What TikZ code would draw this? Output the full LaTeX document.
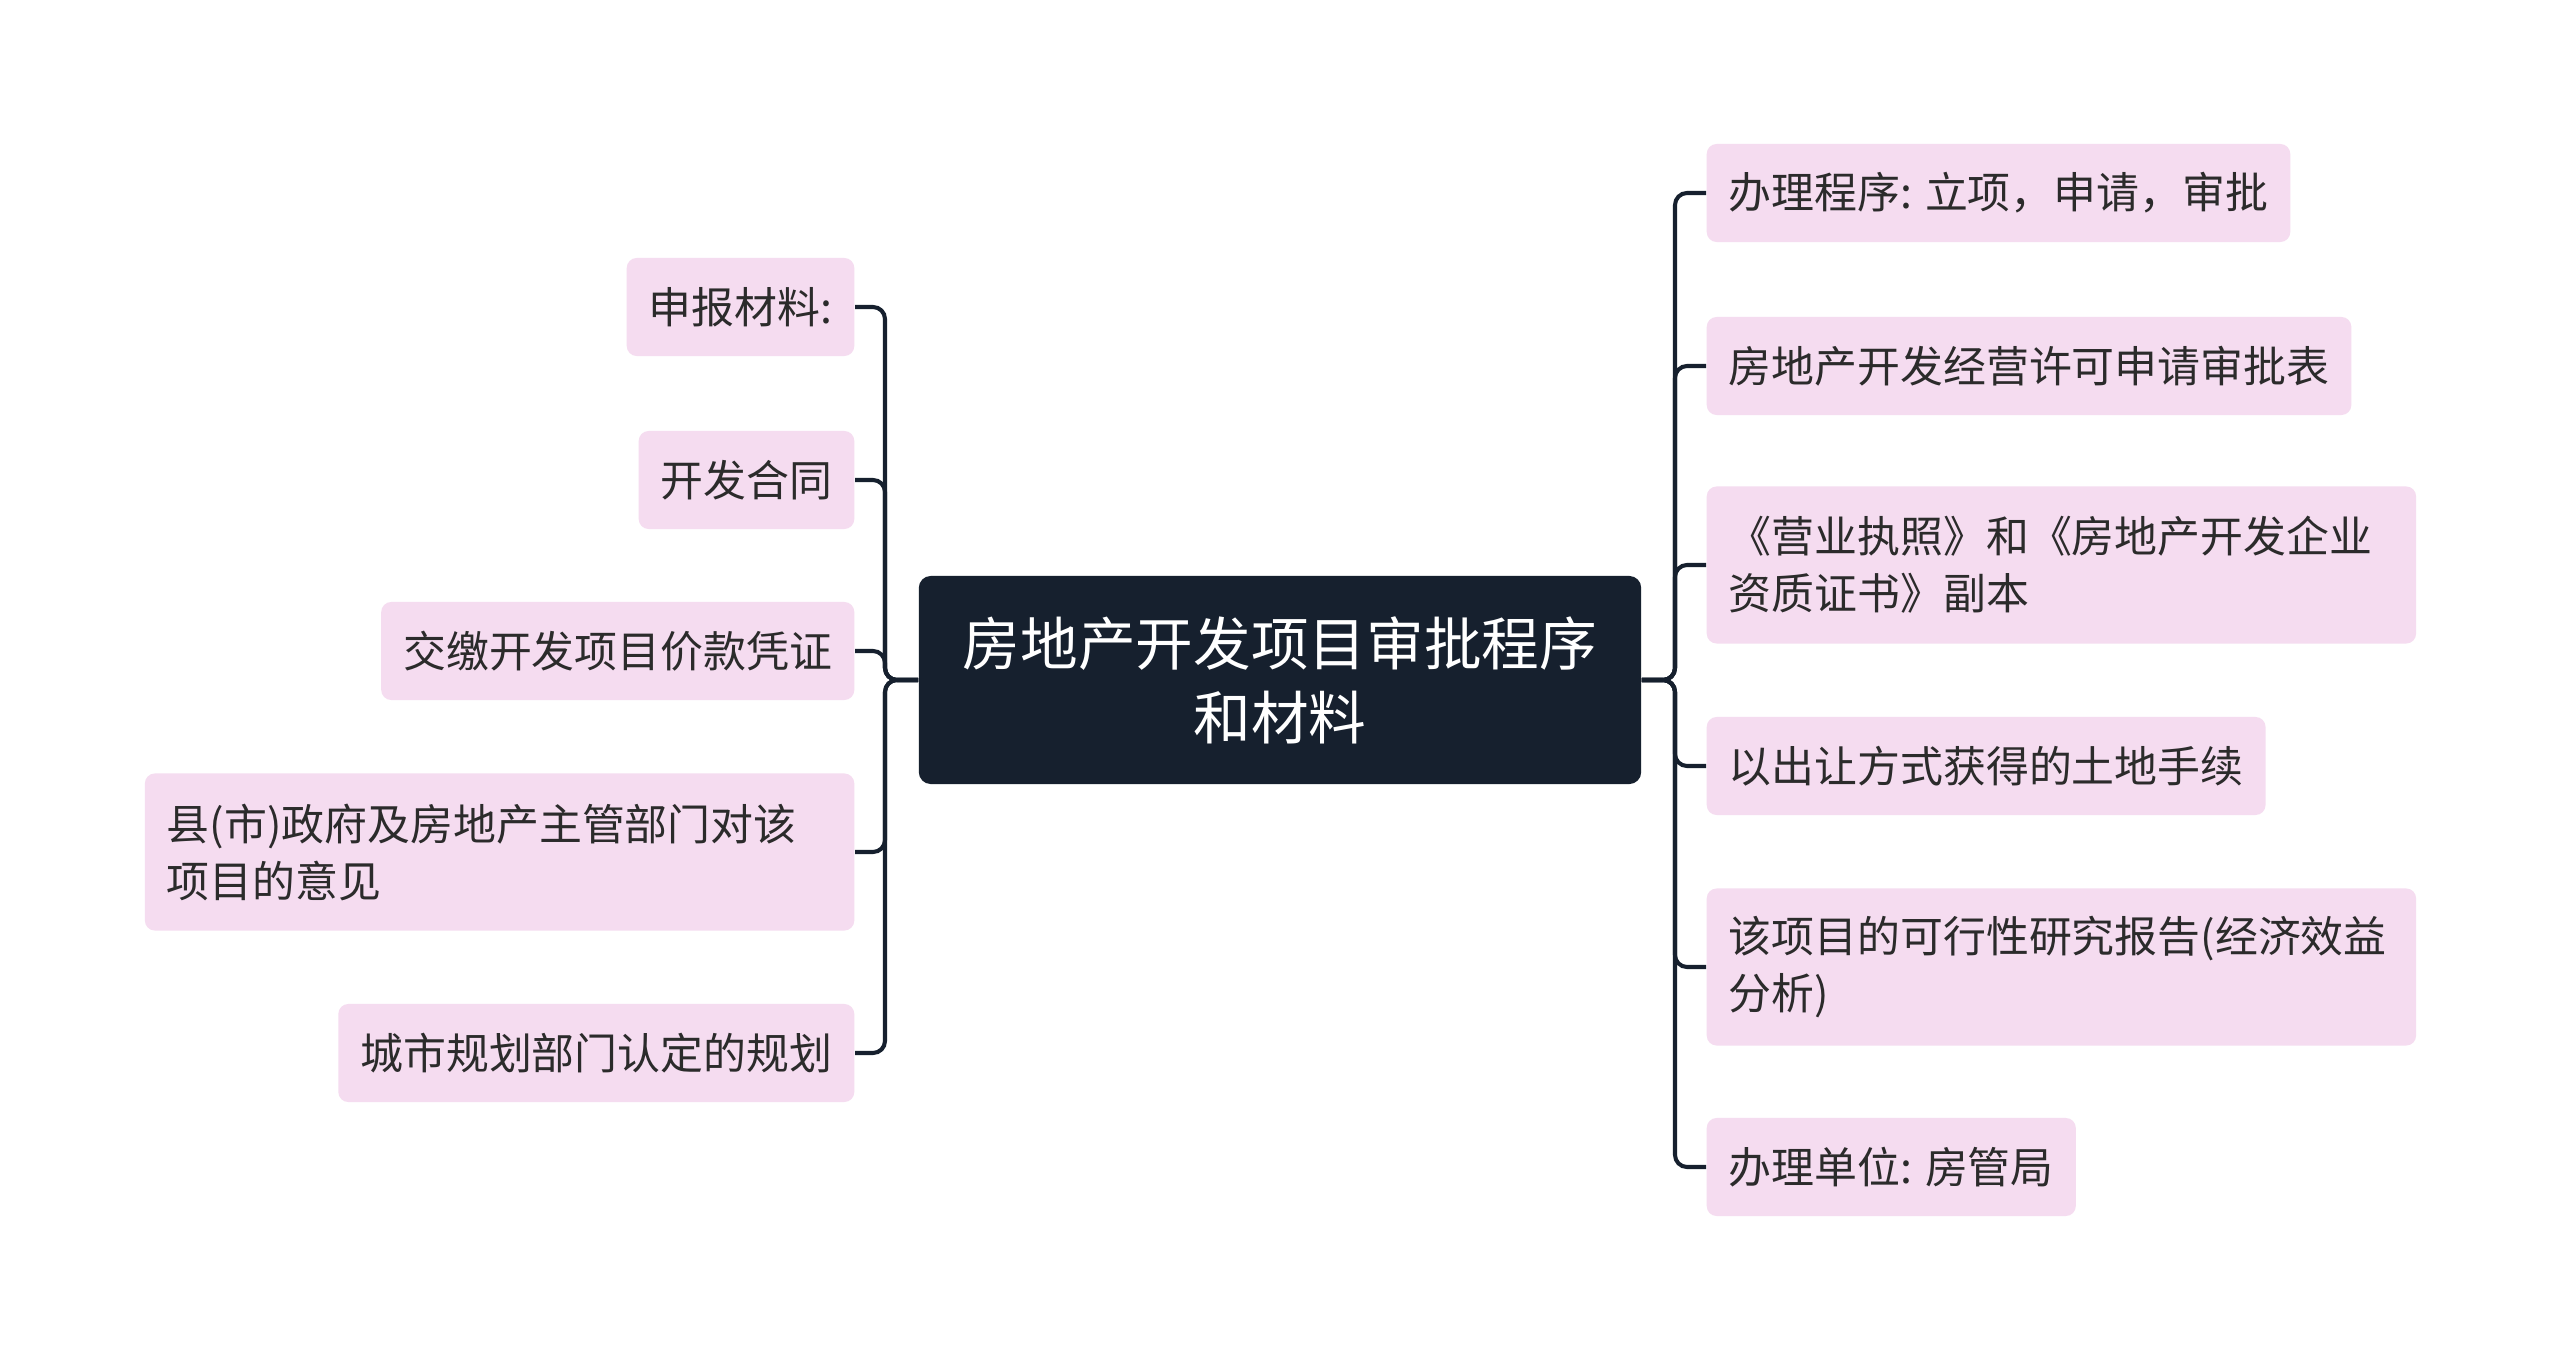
\documentclass[tikz,border=0pt]{standalone}
\usepackage{fontspec}
\setmainfont{Noto Sans CJK SC}
\usepackage{xcolor}
\usetikzlibrary{positioning}
\definecolor{navy}{HTML}{16202E}
\definecolor{pinkbox}{HTML}{F5DCF0}
\definecolor{ink}{HTML}{2B2B2B}

\begin{document}
\begin{tikzpicture}[
  x=0.01cm, y=-0.01cm,
  topic/.style={fill=navy, text=white, rounded corners=0.12cm, align=center, minimum width=7.22cm, minimum height=2.08cm, font=\fontsize{16.4}{21}\selectfont},
  leaf/.style={fill=pinkbox, text=ink, rounded corners=0.1cm, align=left, minimum height=0.98cm, inner xsep=0.22cm, inner ysep=0.1cm, font=\fontsize{12.2}{16.2}\selectfont},
  leaftwo/.style={leaf, minimum height=1.57cm, text width=6.65cm},
  link/.style={draw=navy, line width=1.15pt, rounded corners=0.12cm}
]
\fill[white] (0,0) rectangle (2560,1361);
\useasboundingbox (0,0) rectangle (2560,1361);

\node[topic] (root) at (1280,680) {房地产开发项目审批程序\\和材料};
\coordinate (lt) at (885,680);
\coordinate (rt) at (1675,680);

% left branch
\node[leaf, anchor=east] (l1) at (855,307) {申报材料:};
\node[leaf, anchor=east] (l2) at (855,480) {开发合同};
\node[leaf, anchor=east] (l3) at (855,651) {交缴开发项目价款凭证};
\node[leaftwo, anchor=east] (l4) at (855,852) {县(市)政府及房地产主管部门对该\\项目的意见};
\node[leaf, anchor=east] (l5) at (855,1053) {城市规划部门认定的规划};

% right branch
\node[leaf, anchor=west] (r1) at (1706,193) {办理程序: 立项，申请，审批};
\node[leaf, anchor=west] (r2) at (1706,366) {房地产开发经营许可申请审批表};
\node[leaftwo, anchor=west] (r3) at (1706,565) {《营业执照》和《房地产开发企业\\资质证书》副本};
\node[leaf, anchor=west] (r4) at (1706,766) {以出让方式获得的土地手续};
\node[leaftwo, anchor=west] (r5) at (1706,967) {该项目的可行性研究报告(经济效益\\分析)};
\node[leaf, anchor=west] (r6) at (1706,1167) {办理单位: 房管局};

\foreach \n in {l1,l2,l3,l4,l5}
  \draw[link] (root.west) -- (lt) |- (\n.east);
\foreach \n in {r1,r2,r3,r4,r5,r6}
  \draw[link] (root.east) -- (rt) |- (\n.west);
\end{tikzpicture}
\end{document}
